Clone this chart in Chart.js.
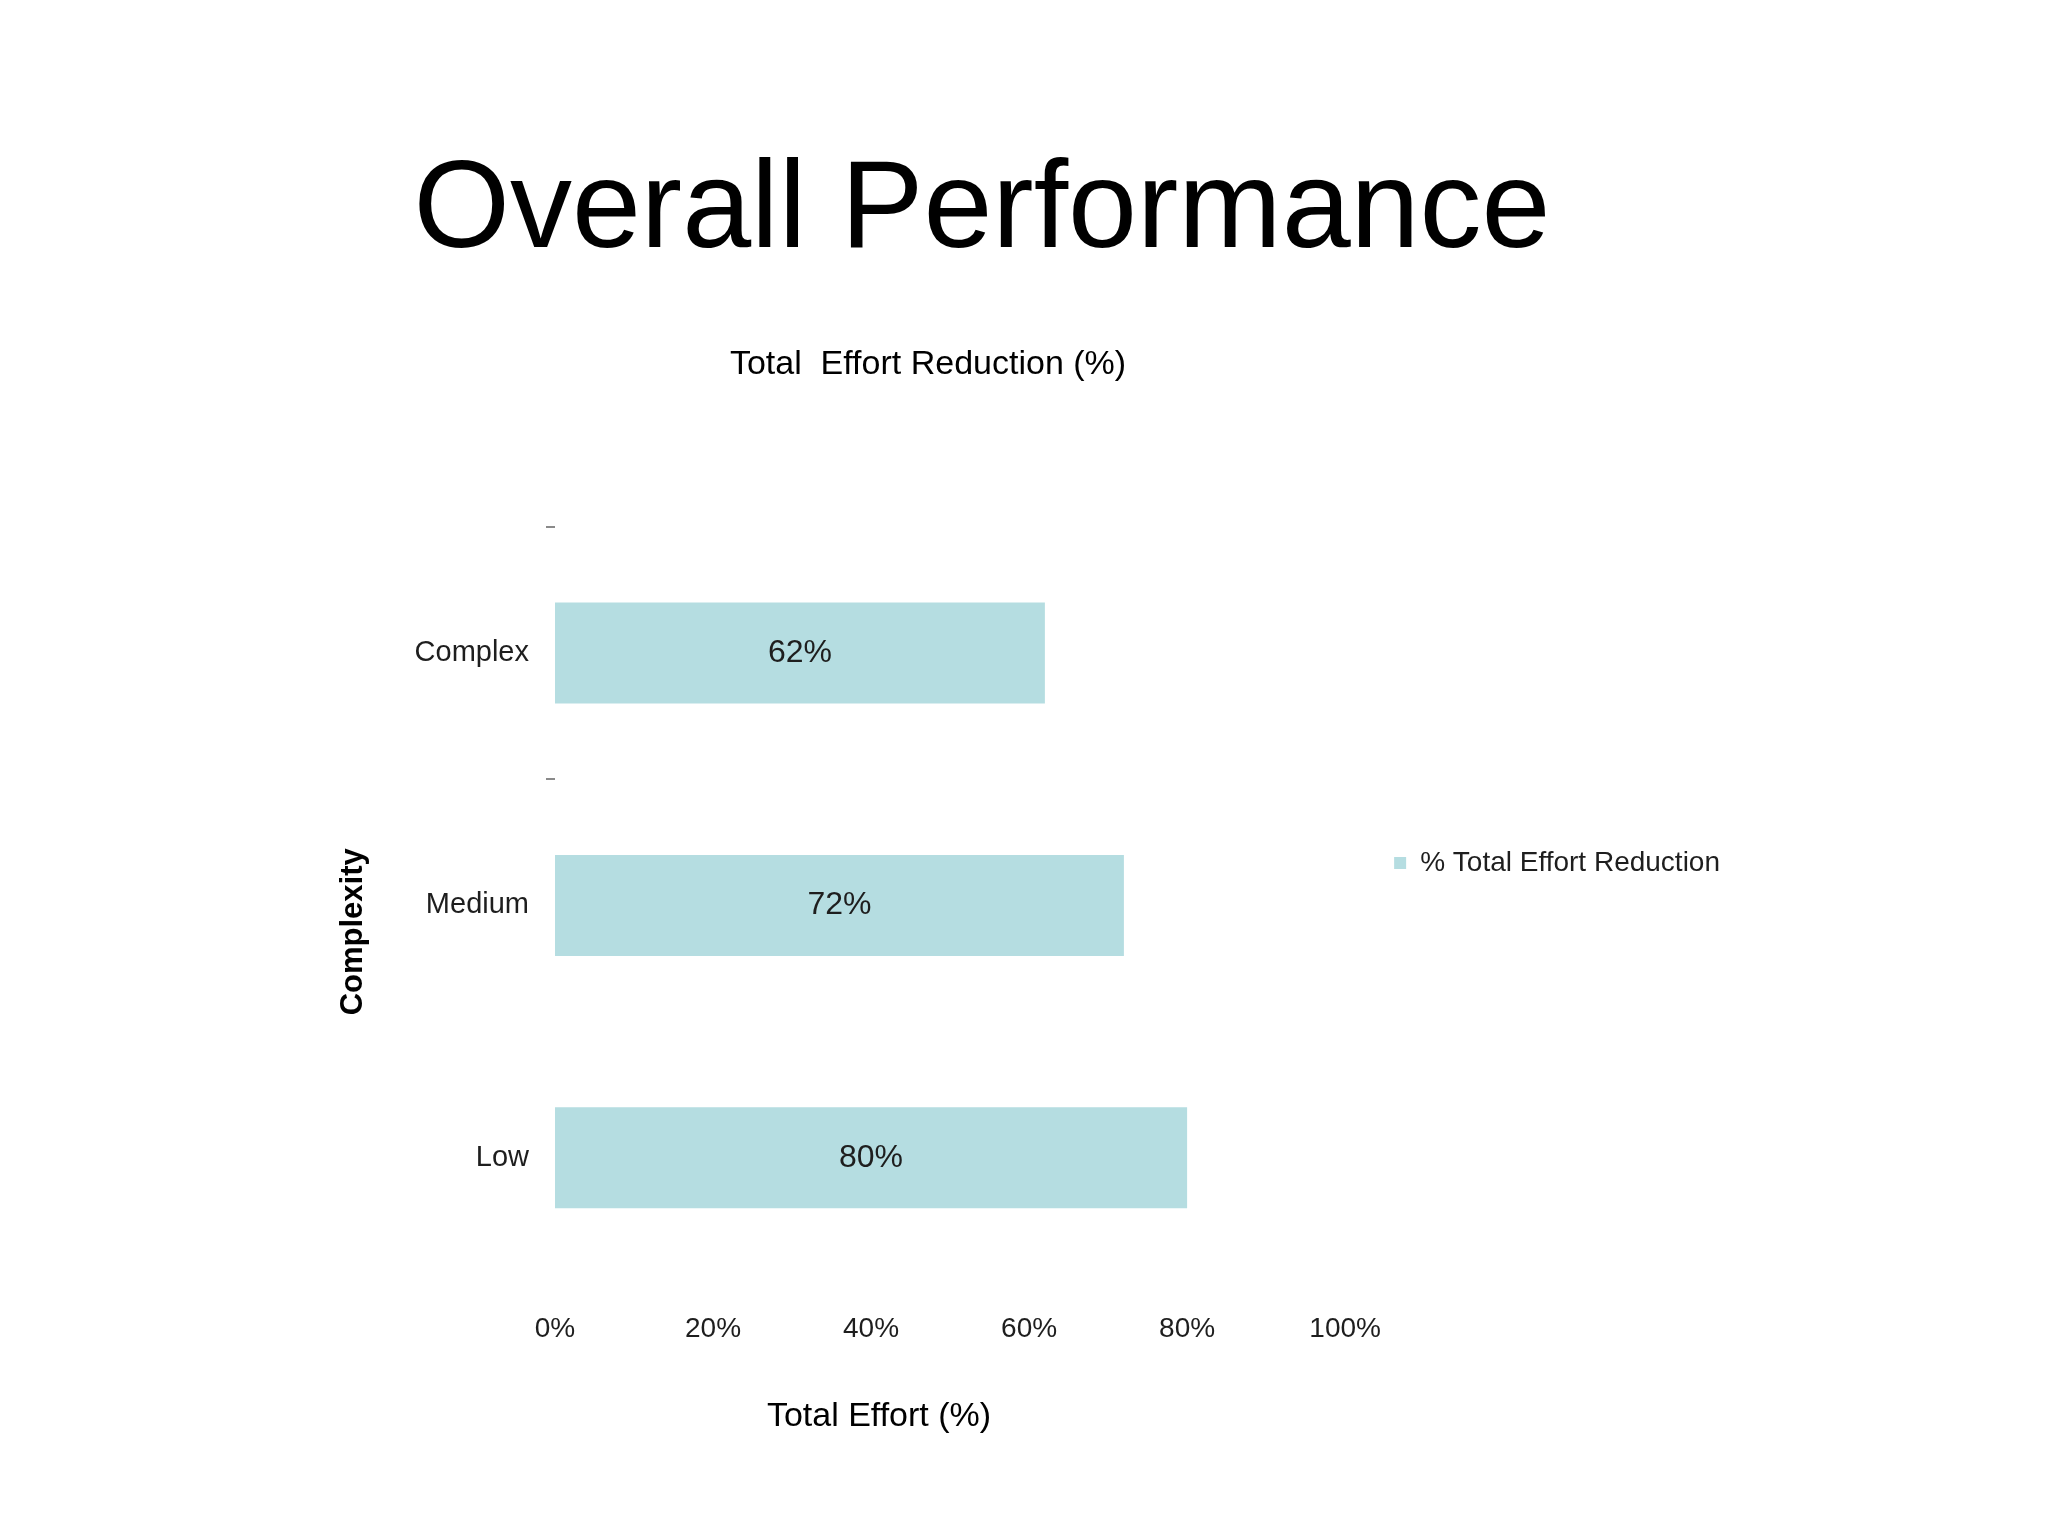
<!DOCTYPE html>
<html>
<head>
<meta charset="utf-8">
<title>Overall Performance</title>
<script src="https://cdn.jsdelivr.net/npm/chart.js@4"></script>
<style>
  html, body { margin: 0; padding: 0; background: #ffffff; }
  body { width: 2048px; height: 1536px; position: relative; overflow: hidden; }
  #heading {
    position: absolute; left: 0; top: 142px; width: 1964px;
    text-align: center; font: 124px/1 "Liberation Sans", Arial, sans-serif; color: #000;
  }
  #chart-wrap { position: absolute; left: 0; top: 280px; width: 2048px; height: 1166px; }
</style>
</head>
<body>
<div id="heading">Overall Performance</div>
<div id="chart-wrap"><canvas id="perf-chart"></canvas></div>
<script>
const categories = ["Complex", "Medium", "Low"];
const effortReduction = [62, 72, 80];
const xTickValues = [0, 20, 40, 60, 80, 100];
const seriesLabel = "% Total Effort Reduction";
const chartTitle = "Total  Effort Reduction (%)";
const xTitle = "Total Effort (%)";
const yTitle = "Complexity";

const fontFamily = '"Liberation Sans", Arial, sans-serif';
const barColor = "#b5dde1";
const textColor = "#1e1e1e";

Chart.defaults.font.family = fontFamily;
Chart.defaults.color = textColor;

// legend width decides where the plot ends, so size the side padding from it
const measureCtx = document.createElement("canvas").getContext("2d");
measureCtx.font = "28px " + fontFamily;
const legendTextWidth = measureCtx.measureText(seriesLabel).width;
const padRight = Math.round(618 - legendTextWidth);
const padLeft = padRight - 192;

const barLabels = {
  id: "barLabels",
  afterDatasetsDraw: function (chart) {
    const ctx = chart.ctx;
    const meta = chart.getDatasetMeta(0);
    ctx.save();
    ctx.font = "32px " + fontFamily;
    ctx.fillStyle = textColor;
    ctx.textAlign = "center";
    ctx.textBaseline = "middle";
    meta.data.forEach(function (bar, i) {
      ctx.fillText(effortReduction[i] + "%", (bar.x + bar.base) / 2, bar.y);
    });
    ctx.restore();
  },
};

// axis titles sit off-centre in the original, so they are placed by hand
const axisTitles = {
  id: "axisTitles",
  afterDraw: function (chart) {
    const ctx = chart.ctx;
    const area = chart.chartArea;
    ctx.save();
    ctx.fillStyle = "#000";
    ctx.textAlign = "center";
    ctx.textBaseline = "middle";
    ctx.font = "34px " + fontFamily;
    ctx.fillText(xTitle, area.left + 324, area.bottom + 133);
    ctx.translate(353, area.top + 405);
    ctx.rotate(-Math.PI / 2);
    ctx.font = "bold 31px " + fontFamily;
    ctx.fillText(yTitle, 0, 0);
    ctx.restore();
  },
};

new Chart(document.getElementById("perf-chart"), {
  type: "bar",
  data: {
    labels: categories,
    datasets: [
      {
        label: seriesLabel,
        data: effortReduction,
        backgroundColor: barColor,
        borderWidth: 0,
        barPercentage: 0.4,
        categoryPercentage: 1.0,
      },
    ],
  },
  options: {
    indexAxis: "y",
    responsive: true,
    maintainAspectRatio: false,
    animation: false,
    layout: {
      padding: { left: padLeft, right: padRight, top: 0, bottom: 0 },
    },
    plugins: {
      title: {
        display: true,
        text: chartTitle,
        color: "#000",
        font: { size: 34, weight: "normal" },
        padding: { top: 64, bottom: 142 },
      },
      legend: {
        position: "right",
        labels: {
          boxWidth: 12,
          boxHeight: 12,
          padding: 49,
          color: textColor,
          font: { size: 28 },
        },
      },
      tooltip: { enabled: false },
    },
    scales: {
      x: {
        min: 0,
        max: 100,
        afterBuildTicks: function (scale) {
          scale.ticks = xTickValues.map(function (v) {
            return { value: v };
          });
        },
        afterFit: function (scale) {
          scale.height = 162;
        },
        grid: { display: false, drawTicks: false },
        border: { display: false },
        ticks: {
          padding: 28,
          color: textColor,
          font: { size: 28 },
          maxRotation: 0,
          callback: function (value) {
            return value + "%";
          },
        },
      },
      y: {
        afterFit: function (scale) {
          scale.width = 555 - padLeft;
        },
        grid: {
          drawOnChartArea: false,
          drawTicks: true,
          tickLength: 9,
          lineWidth: 2,
          color: function (context) {
            return context.index < 2 ? "#8a8a8a" : "rgba(0,0,0,0)";
          },
        },
        border: { display: false },
        ticks: {
          padding: 17,
          color: textColor,
          font: { size: 29 },
        },
      },
    },
  },
  plugins: [barLabels, axisTitles],
});
</script>
</body>
</html>
